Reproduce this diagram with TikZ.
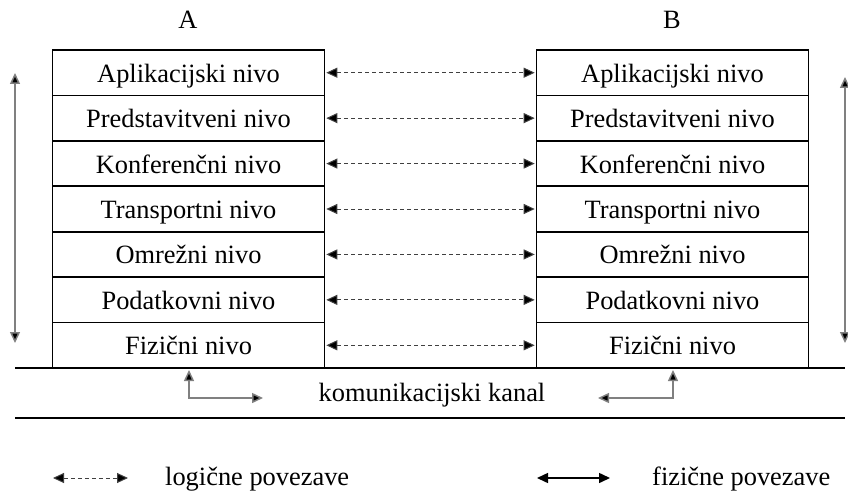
\documentclass[tikz,border=0pt]{standalone}
\usepackage{fontspec}
\setmainfont{Liberation Serif}
\usetikzlibrary{arrows.meta}
\begin{document}
\begin{tikzpicture}[x=1pt,y=-1pt,
  every node/.style={font=\fontsize{26.4}{30}\selectfont, inner sep=0pt},
  layer/.style={draw=black, line width=1.6pt, minimum width=272pt, minimum height=45.43pt,
    text height=19pt, text depth=0pt, anchor=center},
  logical/.style={dashed, dash pattern=on 4pt off 3pt, draw=black!75, line width=1pt,
    {Triangle[length=11pt,width=10pt,fill=black]}-{Triangle[length=11pt,width=10pt,fill=black]}},
  physical/.style={draw=black!50, line width=1.5pt,
    {Triangle[length=11pt,width=10pt,fill=black]}-{Triangle[length=11pt,width=10pt,fill=black]}},
  rule/.style={line width=1.8pt}]
\useasboundingbox (0,0) rectangle (848,492);

% system titles
\node[anchor=base] (tA) at (188,29) {A};
\node[anchor=base] (tB) at (672,29) {B};

% protocol stacks
\foreach \t [count=\i] in {Aplikacijski nivo, Predstavitveni nivo, Konferenčni nivo,
    Transportni nivo, Omrežni nivo, Podatkovni nivo, Fizični nivo} {
  \node[layer] (L\i) at (188.5, {50+45.43*(\i-0.5)}) {\t};
  \node[layer] (R\i) at (672.5, {50+45.43*(\i-0.5)}) {\t};
  \draw[logical, shorten <=1pt, shorten >=1pt] (L\i.east) -- (R\i.west);
}

% vertical flow arrows beside the stacks
\coordinate (vlt) at (15,73);
\coordinate (vlb) at (15,343);
\coordinate (vrt) at (845,77);
\coordinate (vrb) at (845,343);
\draw[physical] (vlb) -- (vlt);
\draw[physical] (vrt) -- (vrb);

% communication channel
\coordinate (c1l) at (15,368);
\coordinate (c1r) at (845,368);
\coordinate (c2l) at (15,418);
\coordinate (c2r) at (845,418);
\draw[rule] (c1l) -- (c1r);
\draw[rule] (c2l) -- (c2r);
\node[anchor=base] (kanal) at (432,401) {komunikacijski kanal};

% physical links into the channel
\coordinate (pa) at (189,370);
\coordinate (pb) at (263,398);
\coordinate (pc) at (673,370);
\coordinate (pd) at (598,398);
\draw[physical] (pa) |- (pb);
\draw[physical] (pc) |- (pd);

% legend
\coordinate (g1) at (53,478);
\coordinate (g2) at (128,478);
\draw[logical] (g1) -- (g2);
\node[anchor=base west] (lg1) at (165,485) {logične povezave};
\coordinate (g3) at (537,478);
\coordinate (g4) at (610,478);
\draw[physical, draw=black] (g3) -- (g4);
\node[anchor=base west] (lg2) at (652,485) {fizične povezave};
\end{tikzpicture}
\end{document}
